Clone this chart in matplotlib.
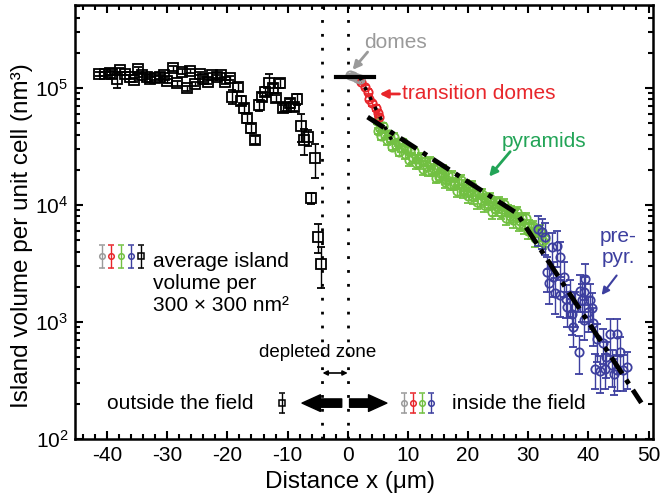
import matplotlib.pyplot as plt
from matplotlib.ticker import MultipleLocator, LogLocator, NullFormatter

plt.rcParams['font.family'] = ['Liberation Sans', 'DejaVu Sans']
plt.rcParams['mathtext.fontset'] = 'custom'
plt.rcParams['mathtext.rm'] = 'Liberation Sans'
plt.rcParams['axes.unicode_minus'] = False

# outside the field: average island volume (nm^3) vs distance (um)
out_x = [-41.4, -40.3, -39.6, -39.2, -38.4, -37.8, -37.0, -36.2, -35.6, -34.9,
         -34.2, -33.4, -32.8, -32.0, -31.2, -30.6, -30.1, -29.0, -28.4, -27.6,
         -26.8, -26.2, -25.4, -24.6, -24.0, -23.2, -22.6, -21.8, -21.0, -20.4,
         -19.6, -19.3, -18.3, -17.8, -17.3, -16.7, -16.1, -15.5, -14.7, -14.2,
         -13.7, -13.1, -12.5, -11.9, -11.3, -10.8, -10.2, -9.6, -9.0, -8.4,
         -7.8, -7.2, -6.6, -6.1, -5.4, -4.9, -4.4]
out_v = [131000, 131000, 135000, 133000, 118600, 142600, 133000, 125000, 117000, 144500,
         129000, 125000, 118600, 121000, 125000, 129000, 115600, 147200, 109600, 137700,
         99300, 140600, 108100, 133000, 118600, 113200, 129000, 125000, 129000, 113200,
         121000, 84300, 102600, 78000, 67000, 55100, 45200, 36000, 71600, 84300,
         93100, 109600, 99300, 81700, 109600, 67000, 69200, 74000, 69200, 80500,
         47300, 36000, 37800, 11400, 25100, 5360, 3160]
out_err = [5000, 5000, 6000, 5000, 19000, 6000, 5000, 5000, 5000, 7000,
           5000, 5000, 5000, 5000, 5000, 5000, 5000, 7000, 5000, 7000,
           5000, 6000, 5000, 5000, 5000, 5000, 6000, 5000, 6000, 5000,
           5000, 11000, 8000, 7000, 6000, 5000, 4000, 3000, 8000, 7000,
           8000, 22000, 8000, 6000, 9000, 5000, 5000, 6000, 5000, 9000,
           13000, 9000, 6000, 1200, 8000, 1500, 1200]

# domes (grey)
dome_x = [0.3, 0.9, 1.5, 2.0]
dome_v = [128000, 126000, 122000, 119000]
dome_err = [5000, 5000, 5000, 5000]

# transition domes (red)
trans_x = [2.2, 2.8, 3.3, 3.6, 4.1, 4.7, 5.0, 5.2]
trans_v = [113200, 102600, 93300, 81300, 74100, 67600, 61700, 56200]
trans_err = [5000, 4500, 4500, 4000, 4000, 3500, 3500, 3500]

# pyramids (green)
pyr_x = [4.8, 5.1, 5.4, 5.6, 5.9, 6.2, 6.5, 6.8, 7.1, 7.4,
         7.7, 8.0, 8.3, 8.6, 8.9, 9.2, 9.5, 9.8, 10.1, 10.4,
         10.7, 11.0, 11.3, 11.6, 11.9, 12.2, 12.5, 12.8, 13.1, 13.4,
         13.7, 14.0, 14.3, 14.6, 14.9, 15.2, 15.5, 15.8, 16.1, 16.4,
         16.7, 17.0, 17.3, 17.6, 17.9, 18.2, 18.5, 18.8, 19.1, 19.4,
         19.7, 20.0, 20.3, 20.6, 20.9, 21.2, 21.5, 21.8, 22.1, 22.4,
         22.7, 23.0, 23.3, 23.6, 23.9, 24.2, 24.5, 24.8, 25.1, 25.4,
         25.7, 26.0, 26.3, 26.6, 26.9, 27.2, 27.5, 27.8, 28.1, 28.4,
         28.7, 29.0, 29.3, 29.6, 29.9, 30.2, 30.5, 30.8, 31.1, 31.4,
         31.7, 32.0, 32.4, 32.8]
pyr_v = [51800, 43200, 45900, 38700, 47600, 39800, 35800, 40800, 37300, 31300,
         38500, 32300, 34300, 28500, 30900, 34400, 27200, 29700, 24100, 29200,
         25500, 28900, 22800, 24900, 22700, 25700, 20200, 23600, 21600, 19600,
         23500, 19500, 20400, 17100, 20700, 17500, 18400, 20500, 15700, 16700,
         17900, 15000, 17800, 14900, 15300, 13200, 15500, 16400, 13200, 13400,
         14800, 11900, 13200, 14600, 11700, 12100, 10600, 12600, 11000, 12400,
         10000, 11200, 10300, 11500, 8800, 10500, 9200, 9600, 10600, 8600,
         9200, 10200, 7800, 9000, 8100, 8900, 7500, 8100, 8700, 6900,
         7300, 7700, 6600, 7700, 6000, 6600, 6000, 6600, 5200, 6000,
         5300, 6000, 4900, 5100]
pyr_err = [3000, 2500, 3000, 2500, 3000, 2500, 3000, 2500, 3000, 2000,
           2500, 2000, 2500, 2000, 2500, 2000, 2500, 2000, 2500, 2000,
           2500, 2000, 2500, 2000, 2500, 2000, 2000, 1800, 2000, 1800,
           2000, 1800, 2000, 1800, 2000, 1800, 2000, 1600, 1800, 1600,
           1800, 1600, 1800, 1500, 1700, 1500, 1700, 1500, 1600, 1400,
           1500, 1400, 1500, 1300, 1400, 1300, 1400, 1200, 1400, 1200,
           1300, 1200, 1300, 1100, 1200, 1100, 1200, 1000, 1200, 1000,
           1100, 1000, 1100, 1000, 1100, 1000, 1100, 900, 1000, 900,
           1000, 900, 900, 800, 900, 800, 900, 700, 800, 700,
           800, 700, 700, 700]

# pre-pyramids (blue)
pre_x = [31.6, 32.3, 32.8, 33.1, 33.4, 33.9, 34.2, 34.5, 34.8, 35.3,
         35.3, 35.9, 36.2, 36.4, 37.0, 37.3, 37.5, 37.8, 38.4, 38.6,
         38.9, 39.2, 39.2, 39.5, 40.0, 40.2, 40.6, 40.8, 41.1, 41.4,
         41.9, 42.5, 42.8, 43.0, 43.6, 43.9, 44.2, 44.7, 44.7, 45.3,
         45.8, 46.4]
pre_v = [6300, 5890, 5370, 2690, 2140, 4370, 2450, 1780, 4470, 3630,
         1700, 2450, 1580, 1350, 1700, 1170, 910, 1350, 560, 1860,
         1550, 1820, 1050, 2340, 1230, 1550, 1320, 980, 400, 710,
         380, 660, 400, 500, 790, 430, 360, 790, 390, 560,
         390, 410]
pre_err = [1800, 1700, 1600, 900, 700, 1400, 800, 600, 1500, 1200,
           600, 800, 500, 450, 600, 400, 300, 450, 200, 650,
           550, 600, 350, 800, 400, 550, 450, 350, 130, 250,
           130, 220, 130, 170, 280, 150, 120, 280, 130, 190,
           130, 140]

# fitted lines
fit_x = [3.3, 28.1, 48.8]
fit_v = [56500, 8510, 204]
trans_fit_x = [2.0, 7.8]
trans_fit_v = [124000, 31900]
dome_line_x = [-2.0, 4.3]
dome_line_v = [124000, 124000]

gray = '#9a9a9a'
red = '#e8262b'
green = '#72c042'
green_txt = '#22a457'
blue = '#3d3f9f'

fig = plt.figure(figsize=(6.6, 4.95), dpi=100)
ax = fig.add_axes([0.114, 0.113, 0.875, 0.877])
ax.set_yscale('log')
ax.set_xlim(-45.3, 50.7)
ax.set_ylim(100, 5.13e5)

# field boundaries
for xv in (-4.2, 0.0):
    ax.axvline(xv, color='black', lw=2, ls=(0, (1, 4)), zorder=1)

ax.errorbar(out_x, out_v, yerr=out_err, fmt='s', mfc='none', mec='black',
            ecolor='black', ms=6.5, mew=1.3, elinewidth=1, capsize=3, zorder=3)
ax.errorbar(pyr_x, pyr_v, yerr=pyr_err, fmt='o', mfc='none', mec=green,
            ecolor=green, ms=6, mew=1.3, elinewidth=1, capsize=3, zorder=3)
ax.errorbar(pre_x, pre_v, yerr=pre_err, fmt='o', mfc='none', mec=blue,
            ecolor=blue, ms=6, mew=1.3, elinewidth=1, capsize=3, zorder=3)
ax.errorbar(trans_x, trans_v, yerr=trans_err, fmt='o', mfc='none', mec=red,
            ecolor=red, ms=6, mew=1.3, elinewidth=1, capsize=3, zorder=3)
ax.errorbar(dome_x, dome_v, yerr=dome_err, fmt='o', mfc='none', mec=gray,
            ecolor=gray, ms=6, mew=1.3, elinewidth=1, capsize=3, zorder=3)

ax.plot(dome_line_x, dome_line_v, color='black', lw=3, zorder=4)
ax.plot(trans_fit_x, trans_fit_v, color='black', lw=2.5, ls=(0, (1, 2.2)), zorder=4)
ax.plot(fit_x, fit_v, color='black', lw=3.5, ls=(0, (4, 1.5, 1, 1.5)), zorder=4)

# labels of the island types
ax.text(2.8, 2.47e5, 'domes', color=gray, fontsize=15, va='center', ha='left')
ax.annotate('', xy=(0.8, 1.43e5), xytext=(3.3, 2.03e5),
            arrowprops=dict(arrowstyle='-|>', color=gray, lw=2, mutation_scale=12,
                            shrinkA=0, shrinkB=0))
ax.text(9.1, 8.9e4, 'transition domes', color=red, fontsize=15, va='center', ha='left')
ax.annotate('', xy=(5.3, 8.9e4), xytext=(8.6, 8.9e4),
            arrowprops=dict(arrowstyle='-|>', color=red, lw=2, mutation_scale=12,
                            shrinkA=0, shrinkB=0))
ax.text(32.6, 3.48e4, 'pyramids', color=green_txt, fontsize=15, va='center', ha='center')
ax.annotate('', xy=(23.5, 1.75e4), xytext=(27.0, 2.86e4),
            arrowprops=dict(arrowstyle='-|>', color=green_txt, lw=2, mutation_scale=12,
                            shrinkA=0, shrinkB=0))
ax.text(45.0, 4.4e3, 'pre-\npyr.', color=blue, fontsize=15, va='center', ha='center',
        linespacing=1.1)
ax.annotate('', xy=(42.2, 1.70e3), xytext=(44.7, 2.5e3),
            arrowprops=dict(arrowstyle='-|>', color=blue, lw=1.5, mutation_scale=11,
                            shrinkA=0, shrinkB=0))

# key for the symbols
key_x = [-40.9, -39.3, -37.7, -36.0, -34.3]
key_c = [gray, red, green, blue, 'black']
key_m = ['o', 'o', 'o', 'o', 's']
for kx, kc, km in zip(key_x, key_c, key_m):
    ax.errorbar([kx], [3660], yerr=[[750], [900]], fmt=km, mfc='none', mec=kc,
                ecolor=kc, ms=4, mew=1.1, elinewidth=1, capsize=2.5)
ax.text(-32.3, 2150, 'average island\nvolume per\n300 \u00d7 300 nm\u00b2',
        fontsize=15, va='center', ha='left', linespacing=1.2)

# depleted zone
ax.text(-5.0, 545, 'depleted zone', fontsize=13.5, va='center', ha='center')
ax.annotate('', xy=(-4.2, 367), xytext=(0.0, 367),
            arrowprops=dict(arrowstyle='<|-|>', color='black', lw=1.2,
                            mutation_scale=7, shrinkA=0, shrinkB=0))

# outside / inside the field
ax.text(-27.8, 203, 'outside the field', fontsize=15, va='center', ha='center')
ax.errorbar([-10.9], [203], yerr=[[35], [45]], fmt='s', mfc='none', mec='black',
            ecolor='black', ms=4, mew=1.1, elinewidth=1, capsize=2.5)
bot_x = [9.4, 10.9, 12.4, 13.9]
for kx, kc in zip(bot_x, key_c[:4]):
    ax.errorbar([kx], [203], yerr=[[35], [45]], fmt='o', mfc='none', mec=kc,
                ecolor=kc, ms=4, mew=1.1, elinewidth=1, capsize=2.5)
ax.text(17.4, 203, 'inside the field', fontsize=15, va='center', ha='left')
big_arrow = dict(arrowstyle='simple,head_length=0.55,head_width=0.5,tail_width=0.25',
                 fc='black', ec='black', mutation_scale=24, shrinkA=0, shrinkB=0)
ax.annotate('', xy=(-7.6, 203), xytext=(-1.0, 203), arrowprops=big_arrow)
ax.annotate('', xy=(6.5, 203), xytext=(0.3, 203), arrowprops=big_arrow)

ax.set_xlabel('Distance x (\u03bcm)', fontsize=17.5)
ax.set_ylabel('Island volume per unit cell (nm\u00b3)', fontsize=17.5)
ax.xaxis.set_label_coords(0.476, -0.074)
ax.yaxis.set_label_coords(-0.073, 0.468)

ax.xaxis.set_major_locator(MultipleLocator(10))
ax.xaxis.set_minor_locator(MultipleLocator(2))
ax.yaxis.set_major_locator(LogLocator(base=10, numticks=10))
ax.yaxis.set_minor_locator(LogLocator(base=10, subs=range(2, 10), numticks=10))
ax.yaxis.set_minor_formatter(NullFormatter())
ax.tick_params(which='both', direction='in', top=True, right=True, width=1.5)
ax.tick_params(which='major', length=6, labelsize=15, pad=5)
ax.tick_params(which='minor', length=3.5)
for sp in ax.spines.values():
    sp.set_linewidth(1.8)

fig.savefig('out.png', dpi=100)
